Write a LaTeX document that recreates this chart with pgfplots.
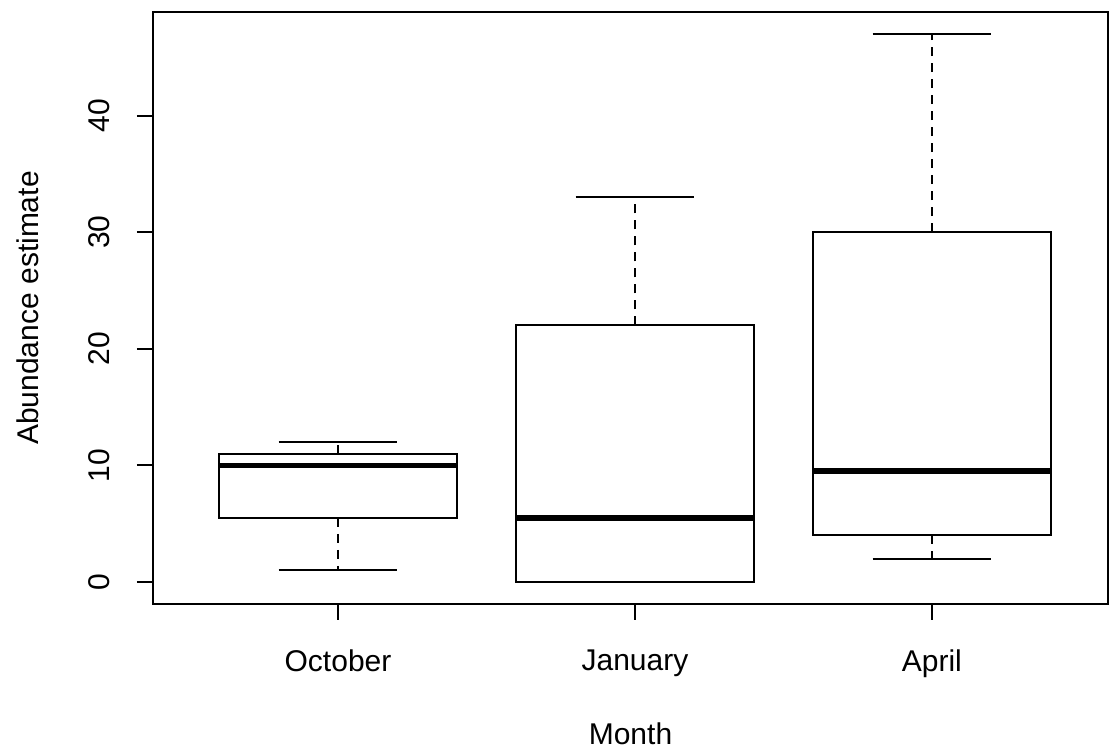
\documentclass[border=0pt]{standalone}
\usepackage{fontspec}
\setmainfont{Liberation Sans}
\usepackage{pgfplots}
\pgfplotsset{compat=1.18}
\usepgfplotslibrary{statistics}
\begin{document}
\fontsize{15}{18}\selectfont
\begin{tikzpicture}
\useasboundingbox (-76.5pt,-74.5pt) rectangle (478pt,302pt);
\begin{axis}[
  at={(0pt,0pt)}, anchor=south west,
  scale only axis, width=477.5pt, height=296pt,
  xmin=0.377, xmax=3.593, ymin=-1.88, ymax=48.88,
  axis line style={line width=1pt},
  xtick={1,2,3}, xticklabels={October,January,April},
  ytick={0,10,20,30,40},
  tick align=outside, tick pos=left,
  major tick length=8pt,
  every tick/.style={line width=1pt, black},
  /pgf/number format/assume math mode=true,
  xticklabel style={anchor=north, inner sep=0pt},
  yticklabel style={rotate=90, anchor=south, inner sep=0pt},
  xticklabel shift=14.5pt, yticklabel shift=13.5pt,
  every axis x label/.style={at={(axis description cs:0.5,-0.238)}, anchor=base},
  every axis y label/.style={at={(axis description cs:-0.1195,0.5)}, rotate=90, anchor=base},
  xlabel={Month}, ylabel={Abundance estimate},
  boxplot/draw direction=y,
  boxplot/box extend=0.8,
  boxplot/whisker extend=0.4,
  boxplot/draw/lower whisker/.code={%
    \draw[dash pattern=on 4.5pt off 3.5pt] (boxplot box cs:\pgfplotsboxplotvalue{lower quartile},0.5) -- (boxplot box cs:\pgfplotsboxplotvalue{lower whisker},0.5);
    \draw (boxplot whisker cs:\pgfplotsboxplotvalue{lower whisker},0) -- (boxplot whisker cs:\pgfplotsboxplotvalue{lower whisker},1);
  },
  boxplot/draw/upper whisker/.code={%
    \draw[dash pattern=on 4.5pt off 3.5pt] (boxplot box cs:\pgfplotsboxplotvalue{upper quartile},0.5) -- (boxplot box cs:\pgfplotsboxplotvalue{upper whisker},0.5);
    \draw (boxplot whisker cs:\pgfplotsboxplotvalue{upper whisker},0) -- (boxplot whisker cs:\pgfplotsboxplotvalue{upper whisker},1);
  },
  boxplot/draw/median/.code={%
    \draw[line width=2.8pt] (boxplot box cs:\pgfplotsboxplotvalue{median},0) -- (boxplot box cs:\pgfplotsboxplotvalue{median},1);
  },
]
\addplot[black, line width=1pt, boxplot prepared={draw position=1, lower whisker=1, lower quartile=5.5, median=10, upper quartile=11, upper whisker=12}] coordinates {};
\addplot[black, line width=1pt, boxplot prepared={draw position=2, lower whisker=0, lower quartile=0, median=5.5, upper quartile=22, upper whisker=33}] coordinates {};
\addplot[black, line width=1pt, boxplot prepared={draw position=3, lower whisker=2, lower quartile=4, median=9.5, upper quartile=30, upper whisker=47}] coordinates {};
\end{axis}
\end{tikzpicture}
\end{document}
